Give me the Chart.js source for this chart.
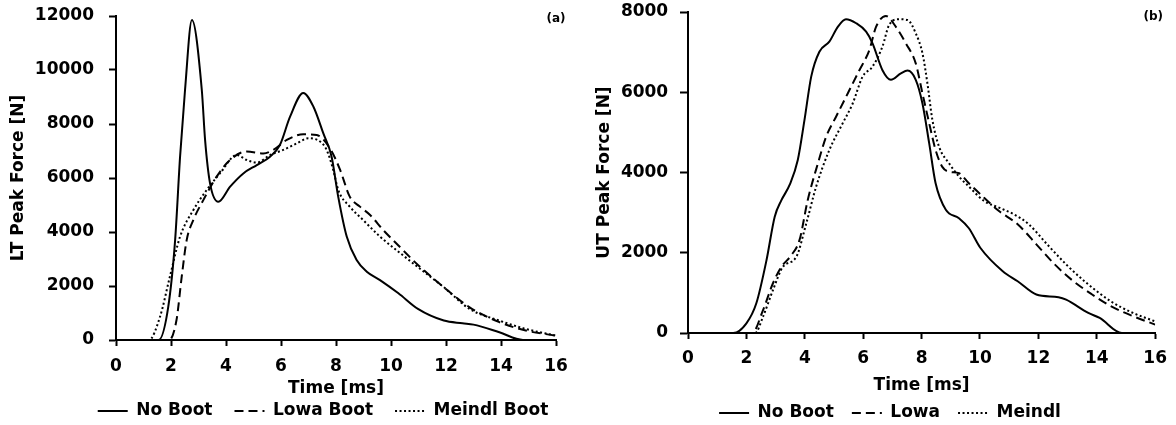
<!DOCTYPE html>
<html>
<head>
<meta charset="utf-8">
<script src="https://cdn.jsdelivr.net/npm/chart.js@4.4.1/dist/chart.umd.min.js"></script>
<style>
html,body{margin:0;padding:0;background:#fff;width:1176px;height:425px;overflow:hidden;position:relative;}
.panel{position:absolute;top:0;height:425px;}
#p1{left:0;width:646px;}
#p2{left:586px;width:590px;}
canvas{display:block;}
</style>
</head>
<body>
<div class="panel" id="p1"><canvas id="c1" width="646" height="425"></canvas></div>
<div class="panel" id="p2"><canvas id="c2" width="590" height="425"></canvas></div>
<script>
// ---- tick labels ----
const xTickValues = [0, 2, 4, 6, 8, 10, 12, 14, 16];
const ltTickValues = [0, 2000, 4000, 6000, 8000, 10000, 12000];
const utTickValues = [0, 2000, 4000, 6000, 8000];

// ---- series names ----
const ltSeriesNames = ['No Boot', 'Lowa Boot', 'Meindl Boot'];
const utSeriesNames = ['No Boot', 'Lowa', 'Meindl'];

// ---- (a) LT peak force: time [ms] / force [N] ----
const ltNoBootT = [0, 1.55, 1.9, 2.15, 2.33, 2.51, 2.76, 3.12, 3.24, 3.42, 3.72, 4.15, 4.63, 5.12, 5.6, 5.96, 6.33, 6.81, 7.18, 7.54, 7.84, 8.08, 8.39, 8.75, 9.12, 9.6, 10.27, 10.98, 11.92, 12.6, 13.0, 13.94, 14.8, 16];
const ltNoBootF = [0, 0, 1230, 3700, 6790, 9260, 11850, 9260, 7400, 5800, 5120, 5680, 6170, 6480, 6790, 7220, 8270, 9150, 8640, 7650, 6790, 5310, 3830, 2960, 2530, 2220, 1730, 1150, 720, 620, 570, 285, 0, 0];

const ltLowaT = [0, 1.93, 2.2, 2.39, 2.57, 2.81, 3.18, 3.66, 4.15, 4.75, 5.36, 5.72, 6.21, 6.81, 7.3, 7.78, 8.15, 8.5, 8.87, 9.24, 9.72, 10.27, 10.98, 11.92, 12.86, 13.94, 14.9, 16];
const ltLowaF = [0, 0, 740, 2350, 3700, 4440, 5190, 6050, 6670, 6980, 6910, 7040, 7410, 7620, 7590, 7100, 6300, 5310, 4940, 4630, 4070, 3500, 2780, 1955, 1210, 660, 350, 160];

const ltMeindlT = [0, 1.2, 1.6, 1.96, 2.33, 2.81, 3.3, 3.78, 4.39, 4.75, 5.12, 5.6, 6.08, 6.57, 7.0, 7.42, 7.66, 7.9, 8.08, 8.5, 8.99, 9.6, 10.27, 10.98, 11.92, 12.86, 13.94, 14.9, 16];
const ltMeindlF = [0, 0, 860, 2350, 3830, 4810, 5560, 6170, 6850, 6670, 6570, 6850, 7040, 7280, 7470, 7350, 7040, 6300, 5560, 4940, 4440, 3830, 3270, 2700, 1955, 1150, 720, 410, 160];

// ---- (b) UT peak force: time [ms] / force [N] ----
const utNoBootT = [0, 1.55, 2.0, 2.34, 2.69, 2.97, 3.2, 3.48, 3.76, 3.99, 4.22, 4.5, 4.84, 5.13, 5.41, 5.76, 6.1, 6.32, 6.66, 6.95, 7.29, 7.52, 7.8, 8.03, 8.26, 8.48, 8.83, 9.28, 9.62, 10.01, 10.78, 11.29, 11.93, 12.69, 12.95, 13.71, 14.1, 14.86, 16];
const utNoBootF = [0, 0, 240, 740, 1820, 2900, 3310, 3690, 4310, 5310, 6390, 7010, 7260, 7630, 7820, 7720, 7510, 7220, 6550, 6310, 6470, 6540, 6310, 5720, 4730, 3730, 3070, 2860, 2610, 2125, 1540, 1290, 960, 890, 830, 500, 375, 0, 0];

const utLowaT = [0, 2.2, 2.57, 2.91, 3.2, 3.54, 3.82, 4.1, 4.45, 4.73, 5.07, 5.47, 5.87, 6.21, 6.44, 6.78, 7.12, 7.46, 7.8, 8.03, 8.26, 8.48, 8.71, 8.94, 9.28, 9.62, 10.01, 10.65, 11.29, 11.93, 12.56, 13.2, 13.84, 14.48, 15.24, 16];
const utLowaF = [0, 0, 570, 1240, 1650, 1940, 2320, 3310, 4230, 4890, 5390, 5970, 6550, 7050, 7630, 7900, 7630, 7220, 6720, 5970, 5230, 4560, 4140, 4020, 3980, 3730, 3460, 3040, 2710, 2210, 1710, 1290, 960, 670, 420, 210];

const utMeindlT = [0, 2.3, 2.57, 2.91, 3.25, 3.71, 4.05, 4.39, 4.84, 5.3, 5.64, 5.98, 6.32, 6.66, 6.89, 7.23, 7.52, 7.8, 8.03, 8.2, 8.37, 8.6, 8.94, 9.28, 9.62, 10.14, 10.65, 11.16, 11.67, 12.3, 12.95, 13.58, 14.48, 15.24, 16];
const utMeindlF = [0, 0, 410, 1070, 1650, 1900, 2730, 3650, 4560, 5230, 5720, 6390, 6640, 7140, 7680, 7820, 7800, 7470, 6970, 6220, 5310, 4640, 4230, 3900, 3650, 3290, 3125, 2960, 2710, 2210, 1710, 1290, 790, 500, 290];

// ---- rendering ----
const FONT_FAMILY = '"DejaVu Sans", sans-serif';
const mainFont = {family: FONT_FAMILY, size: 17, weight: 'bold'};
const yTickFont = {family: FONT_FAMILY, size: 17, weight: 'bold', lineHeight: 0.02};
const lineStyles = [[], [9, 5], [2, 2.5]];

function pts(t, f) { return t.map((v, i) => ({x: v, y: f[i]})); }

const panelLabel = {
  id: 'panelLabel',
  afterDraw(chart, args, opts) {
    const {ctx, chartArea} = chart;
    ctx.save();
    ctx.font = 'bold 12px ' + FONT_FAMILY;
    ctx.fillStyle = '#000';
    ctx.textAlign = 'center';
    ctx.textBaseline = 'middle';
    ctx.fillText(opts.text, chartArea.right + opts.dx, chartArea.top + opts.dy);
    ctx.restore();
  }
};

function makePanel(id, P) {
  const datasets = P.series.map((s, i) => ({
    label: P.names[i],
    data: pts(s[0], s[1]),
    borderColor: '#000',
    backgroundColor: '#000',
    borderWidth: 2,
    borderDash: lineStyles[i],
    pointRadius: 0,
    pointStyle: 'line',
    fill: false,
    tension: 0.4,
    cubicInterpolationMode: 'monotone'
  }));
  return new Chart(document.getElementById(id), {
    type: 'line',
    data: {datasets},
    plugins: [panelLabel],
    options: {
      responsive: false,
      animation: false,
      devicePixelRatio: 1,
      events: [],
      layout: {padding: P.padding},
      scales: {
        x: {
          type: 'linear', min: 0, max: 16,
          afterBuildTicks: s => { s.ticks = xTickValues.map(v => ({value: v})); },
          afterFit: s => { s.height = P.xAxisH; },
          border: {display: true, color: '#000', width: 2},
          grid: {display: true, drawOnChartArea: false, drawTicks: true, tickLength: 6, tickWidth: 2, tickColor: '#000', color: '#000'},
          ticks: {padding: P.xTickPad, color: '#000', font: mainFont, maxRotation: 0, autoSkip: false, callback: v => String(v)},
          title: {display: true, text: 'Time [ms]', color: '#000', font: mainFont, padding: {top: 0, bottom: P.xTitlePad}}
        },
        y: {
          type: 'linear', position: 'left', min: 0, max: P.yMax,
          afterBuildTicks: s => { s.ticks = P.yTicks.map(v => ({value: v})); },
          afterFit: s => { s.width = P.yAxisW; },
          border: {display: true, color: '#000', width: 2},
          grid: {display: true, drawOnChartArea: false, drawTicks: true, tickLength: P.yTickLen, tickWidth: 2, tickColor: '#000', color: '#000'},
          ticks: {padding: P.yTickPad, color: '#000', font: yTickFont, autoSkip: false, callback: v => String(v)},
          title: {display: true, text: P.yTitle, color: '#000', font: mainFont, padding: {top: P.yTitlePad, bottom: 0}}
        },
        spacer: {
          type: 'linear', position: 'right', min: 0, max: 1, display: true,
          afterFit: s => { s.width = P.rightW; },
          border: {display: false},
          grid: {display: false, drawTicks: false},
          ticks: {display: false},
          title: {display: false}
        }
      },
      plugins: {
        tooltip: {enabled: false},
        panelLabel: {text: P.tag, dx: P.tagDx, dy: P.tagDy},
        legend: {
          display: true, position: 'bottom', align: 'center', fullSize: true,
          labels: {
            usePointStyle: true, pointStyleWidth: 30, boxHeight: 17,
            padding: P.legendPad, color: '#000', font: mainFont,
            generateLabels: chart => chart.data.datasets.map((ds, i) => ({
              text: ds.label, fillStyle: 'rgba(0,0,0,0)', strokeStyle: '#000',
              lineWidth: 2, lineDash: ds.borderDash || [], lineCap: 'butt',
              pointStyle: 'line', hidden: false, datasetIndex: i, fontColor: '#000'
            }))
          }
        }
      }
    }
  });
}

makePanel('c1', {
  names: ltSeriesNames,
  series: [[ltNoBootT, ltNoBootF], [ltLowaT, ltLowaF], [ltMeindlT, ltMeindlF]],
  yMax: 12000, yTicks: ltTickValues, yTitle: 'LT Peak Force [N]', tag: '(a)', tagDx: 0, tagDy: 3,
  padding: {left: 0, right: 0, top: 16, bottom: -4.5},
  yAxisW: 116, rightW: 90, xAxisH: 40.5, xTickPad: 10, xTitlePad: -18.7,
  yTickLen: 7, yTickPad: 15, yTitlePad: 8.8, legendPad: 22
});

makePanel('c2', {
  names: utSeriesNames,
  series: [[utNoBootT, utNoBootF], [utLowaT, utLowaF], [utMeindlT, utMeindlF]],
  yMax: 8000, yTicks: utTickValues, yTitle: 'UT Peak Force [N]', tag: '(b)', tagDx: -2, tagDy: 5,
  padding: {left: 18, right: 0, top: 12, bottom: -6.5},
  yAxisW: 84, rightW: 19, xAxisH: 53.5, xTickPad: 9, xTitlePad: -9.7,
  yTickLen: 8, yTickPad: 11.8, yTitlePad: -9.2, legendPad: 18
});
</script>
</body>
</html>
